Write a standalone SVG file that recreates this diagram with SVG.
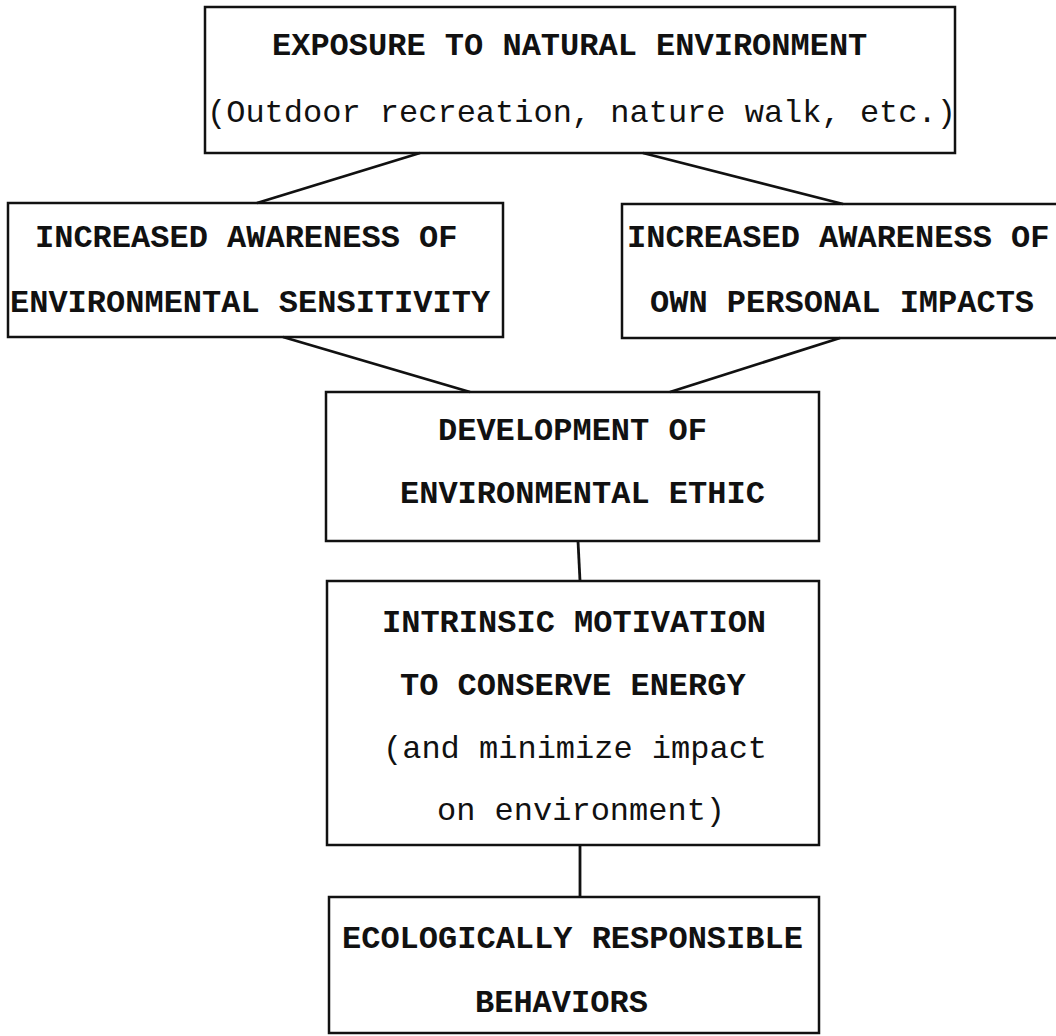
<svg xmlns="http://www.w3.org/2000/svg" width="1056" height="1036" viewBox="0 0 1056 1036">
<style>
.box{fill:none;stroke:#111;stroke-width:2.5}
.con{stroke:#111;stroke-width:2.8;fill:none}
.b{font-family:"Courier New","Nimbus Mono PS","Liberation Mono","DejaVu Sans Mono",monospace;font-size:32px;font-weight:bold;fill:#111}
.n{font-family:"Courier New","Nimbus Mono PS","Liberation Mono","DejaVu Sans Mono",monospace;font-size:32px;fill:#111}
</style>
<rect width="1056" height="1036" fill="#fff"/>
<g id="connectors">
<line class="con" x1="420" y1="153" x2="257" y2="203"/>
<line class="con" x1="643" y1="153" x2="843" y2="204"/>
<line class="con" x1="283" y1="337" x2="470" y2="392"/>
<line class="con" x1="840" y1="338" x2="670" y2="392"/>
<line class="con" x1="578" y1="541" x2="580" y2="581"/>
<line class="con" x1="580" y1="845" x2="580" y2="897"/>
</g>
<g id="exposure">
<rect class="box" x="205" y="7" width="750" height="146"/>
<text class="b" x="272" y="55">EXPOSURE TO NATURAL ENVIRONMENT</text>
<text class="n" x="207" y="122">(Outdoor recreation, nature walk, etc.)</text>
</g>
<g id="sensitivity">
<rect class="box" x="8" y="203" width="495" height="134"/>
<text class="b" x="35" y="247">INCREASED AWARENESS OF</text>
<text class="b" x="10" y="312">ENVIRONMENTAL SENSITIVITY</text>
</g>
<g id="impacts">
<rect class="box" x="622" y="204" width="450" height="134"/>
<text class="b" x="627" y="247">INCREASED AWARENESS OF</text>
<text class="b" x="650" y="312">OWN PERSONAL IMPACTS</text>
</g>
<g id="ethic">
<rect class="box" x="326" y="392" width="493" height="149"/>
<text class="b" x="438" y="440">DEVELOPMENT OF</text>
<text class="b" x="400" y="503">ENVIRONMENTAL ETHIC</text>
</g>
<g id="motivation">
<rect class="box" x="327" y="581" width="492" height="264"/>
<text class="b" x="382" y="632">INTRINSIC MOTIVATION</text>
<text class="b" x="400" y="695">TO CONSERVE ENERGY</text>
<text class="n" x="383" y="758">(and minimize impact</text>
<text class="n" x="437" y="820">on environment)</text>
</g>
<g id="behaviors">
<rect class="box" x="329" y="897" width="490" height="136"/>
<text class="b" x="342" y="948">ECOLOGICALLY RESPONSIBLE</text>
<text class="b" x="475" y="1012">BEHAVIORS</text>
</g>
</svg>
